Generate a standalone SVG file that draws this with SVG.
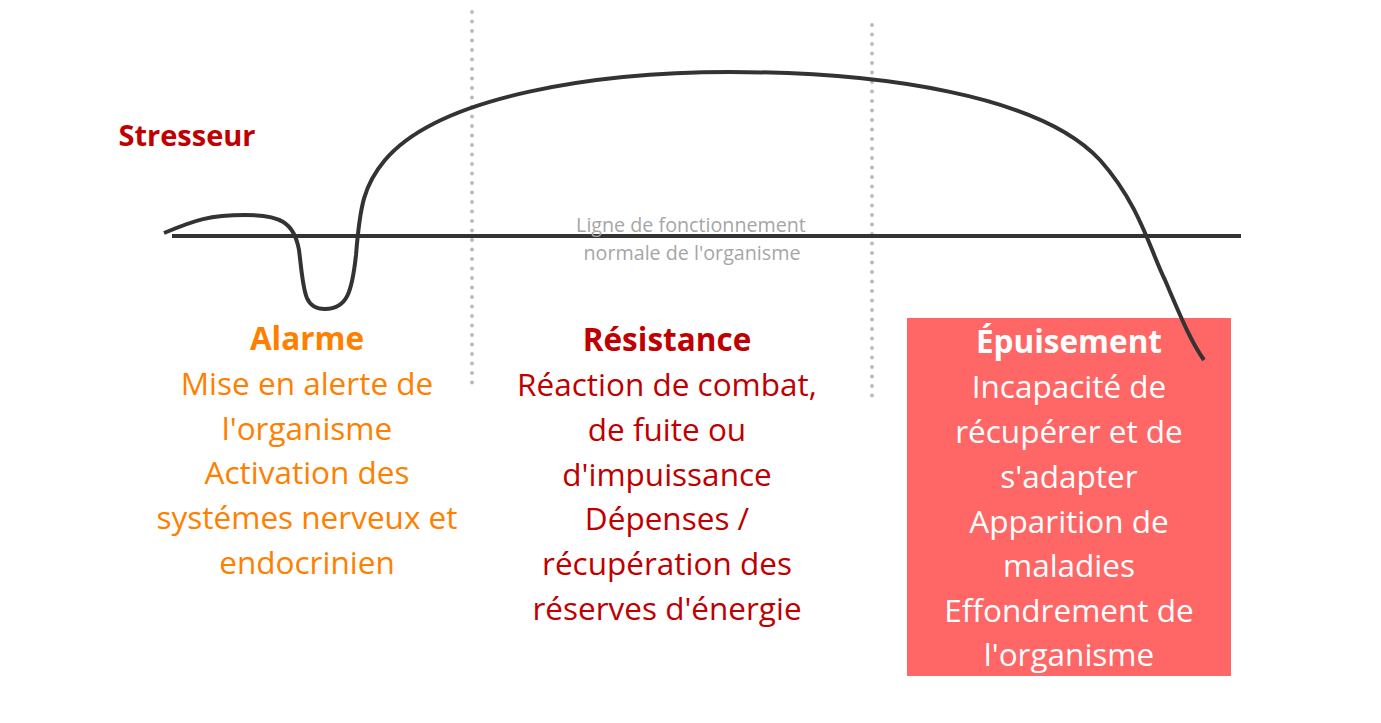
<svg xmlns="http://www.w3.org/2000/svg" width="1381" height="723" viewBox="0 0 1381 723">
<style>
text{font-family:"Open Sans","Noto Sans","Liberation Sans",sans-serif;text-anchor:middle}
.t{font-size:31.5px;font-weight:700}
.s{font-size:29px;font-weight:700}
.b{font-size:31.5px}
.o{fill:#FF7F00}
.r{fill:#C00000}
.w{fill:#FFFFFF}
.g{fill:#A6A6A6;font-size:19.7px}
.dot{stroke:#BBBBBB;stroke-width:4;stroke-linecap:round;stroke-dasharray:0 9.5;fill:none}
.ln{stroke:#333333;stroke-width:4;fill:none}
</style>
<rect width="1381" height="723" fill="#FFFFFF"/>
<g id="separators">
<line class="dot" x1="472" y1="12" x2="472" y2="384"/>
<line class="dot" x1="872" y1="25" x2="872" y2="396"/>
</g>
<g id="epuisement-box">
<rect x="907" y="318" width="324" height="358" fill="#FF6666"/>
</g>
<g id="connectors">
<line class="ln" x1="172" y1="236" x2="1241" y2="236"/>
<path class="ln" d="M164,233 C195,220 210,215 245,215 C280,215 294,222 299,250 C304,290 303,309 325,309 C347,309 352,292 356,255 C360,205 364,185 385,160 C440,95 600,72 730,72 C880,72 1040,95 1100,160 C1140,205 1150,250 1165,280 C1180,315 1190,340 1204,360"/>
</g>
<g id="stresseur">
<text x="187" y="146" class="s r">Stresseur</text>
</g>
<g id="ligne">
<text class="g" x="691" y="231.5">Ligne de fonctionnement</text>
<text class="g" x="692" y="259.5">normale de l'organisme</text>
</g>
<g id="alarme">
<text class="t o" x="307" y="350">Alarme</text>
<text class="b o" x="307" y="395">Mise en alerte de</text>
<text class="b o" x="307" y="440">l'organisme</text>
<text class="b o" x="307" y="484">Activation des</text>
<text class="b o" x="307" y="529">systémes nerveux et</text>
<text class="b o" x="307" y="574">endocrinien</text>
</g>
<g id="resistance">
<text class="t r" x="667" y="351">Résistance</text>
<text class="b r" x="667" y="396">Réaction de combat,</text>
<text class="b r" x="667" y="441">de fuite ou</text>
<text class="b r" x="667" y="486">d'impuissance</text>
<text class="b r" x="667" y="530">Dépenses /</text>
<text class="b r" x="667" y="575">récupération des</text>
<text class="b r" x="667" y="620">réserves d'énergie</text>
</g>
<g id="epuisement">
<text class="t w" x="1069" y="353">Épuisement</text>
<text class="b w" x="1069" y="398">Incapacité de</text>
<text class="b w" x="1069" y="443">récupérer et de</text>
<text class="b w" x="1069" y="488">s'adapter</text>
<text class="b w" x="1069" y="533">Apparition de</text>
<text class="b w" x="1069" y="577">maladies</text>
<text class="b w" x="1069" y="622">Effondrement de</text>
<text class="b w" x="1069" y="666">l'organisme</text>
</g>
</svg>
